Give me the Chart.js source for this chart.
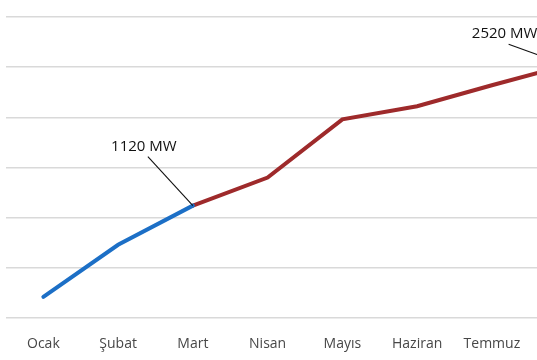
<!DOCTYPE html>
<html lang="tr">
<head>
<meta charset="utf-8">
<script src="https://cdn.jsdelivr.net/npm/chart.js@4/dist/chart.umd.min.js"></script>
<style>
  html, body { margin: 0; padding: 0; background: #fff; overflow: hidden; }
  #wrap { width: 612px; height: 360px; }
</style>
</head>
<body>
<div id="wrap"><canvas id="grafico" width="612" height="360"></canvas></div>
<script>
// aylar ve kapasite (MW)
const aylar = ["Ocak", "Şubat", "Mart", "Nisan", "Mayıs", "Haziran", "Temmuz", "Ağustos"];
const gerceklesen = [210, 730, 1120, null, null, null, null, null];
const tahmin = [null, null, 1120, 1400, 1980, 2110, 2320, 2520];
const etiketler = [
  { seri: 1, idx: 2, text: "1120 MW", dx: -49, dy: -59 },
  { seri: 1, idx: 7, text: "2520 MW", dx: -62, dy: -31 },
];

const etiketPlugin = {
  id: "etiketler",
  afterDatasetsDraw(chart) {
    const ctx = chart.ctx;
    const x = chart.scales.x, y = chart.scales.y;
    ctx.save();
    etiketler.forEach((e) => {
      const v = chart.data.datasets[e.seri].data[e.idx];
      const px = x.getPixelForValue(e.idx);
      const py = y.getPixelForValue(v);
      const lx = px + e.dx, ly = py + e.dy;
      ctx.strokeStyle = "#111";
      ctx.lineWidth = 1.1;
      ctx.beginPath();
      ctx.moveTo(lx + 4, ly + 10);
      ctx.lineTo(px, py);
      ctx.stroke();
      ctx.fillStyle = "#111";
      ctx.font = "15px 'Open Sans'";
      ctx.textAlign = "center";
      ctx.textBaseline = "middle";
      ctx.fillText(e.text, lx, ly);
    });
    ctx.restore();
  },
};

new Chart(document.getElementById("grafico"), {
  type: "line",
  data: {
    labels: aylar,
    datasets: [
      { data: gerceklesen, borderColor: "#1c6fc6", borderWidth: 4, pointRadius: 0, tension: 0, borderCapStyle: "round", spanGaps: false },
      { data: tahmin, borderColor: "#9e2a2b", borderWidth: 4, pointRadius: 0, tension: 0, borderCapStyle: "round", spanGaps: false },
    ],
  },
  options: {
    responsive: false,
    animation: false,
    layout: { padding: { left: 6, top: 17, right: 8, bottom: 0 } },
    plugins: { legend: { display: false }, tooltip: { enabled: false } },
    scales: {
      x: {
        offset: true,
        grid: { display: false },
        border: { display: false },
        ticks: { color: "#474747", font: { family: "Open Sans", size: 14 }, padding: 10, maxRotation: 0, autoSkip: false },
        afterFit: (scale) => { scale.height = 42; },
      },
      y: {
        min: 0,
        max: 3000,
        ticks: { display: false, stepSize: 500 },
        border: { display: false },
        grid: { color: "#d9d9d9", lineWidth: 1.5, drawTicks: false },
      },
    },
  },
  plugins: [etiketPlugin],
});
</script>
</body>
</html>
